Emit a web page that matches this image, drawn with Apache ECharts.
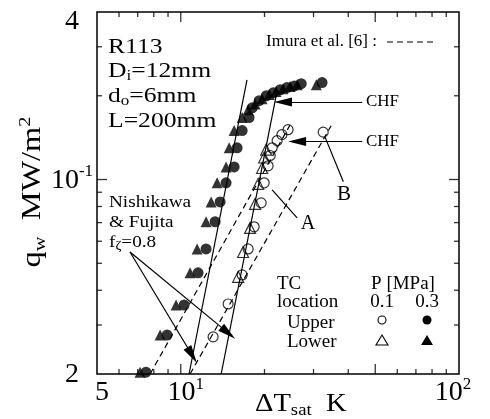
<!DOCTYPE html>
<html>
<head>
<meta charset="utf-8">
<script src="https://cdn.jsdelivr.net/npm/echarts@6/dist/echarts.min.js"></script>
<style>
html,body{margin:0;padding:0;background:#fff;}
#chart{width:490px;height:419px;}
</style>
</head>
<body>
<div id="chart"></div>
<script>
var F = "'Liberation Serif','Times New Roman',serif";

var xMin = 5, xMax = 100, yMin = 0.02, yMax = 0.4;

// P = 0.3 MPa (filled)
var upper03 = [[7.50,0.0203],[8.93,0.0276],[10.28,0.0354],[11.54,0.0462],[12.33,0.0563],[13.29,0.0705],[13.85,0.0831],[14.55,0.0973],[15.55,0.111],[15.94,0.130],[16.62,0.150],[17.6,0.167],[18.06,0.181],[19.13,0.192],[20.3,0.200],[21.5,0.205],[22.76,0.210],[24.1,0.214],[25.6,0.217],[27.1,0.221],[32.2,0.223]];
var lower03 = [[7.14,0.0203],[8.43,0.0276],[9.62,0.0354],[10.8,0.0462],[11.45,0.0563],[12.33,0.0705],[12.86,0.0831],[13.51,0.0973],[14.55,0.111],[14.93,0.130],[15.55,0.150],[16.62,0.167],[17.46,0.178],[18.5,0.187],[19.6,0.195],[20.8,0.202],[22.0,0.207],[23.3,0.212],[24.7,0.216],[26.2,0.219],[30.7,0.219]];
// P = 0.1 MPa (open)
var upper01 = [[13.07,0.0272],[14.8,0.0357],[16.62,0.0454],[17.46,0.0563],[18.35,0.0676],[19.45,0.0824],[19.94,0.0973],[20.6,0.112],[20.96,0.122],[21.3,0.130],[22.2,0.138],[23.1,0.145],[24.3,0.151],[32.5,0.148]];
var lower01 = [[16.08,0.0447],[16.75,0.0549],[17.75,0.0670],[18.5,0.0818],[18.98,0.0965],[19.6,0.110],[19.94,0.120],[20.27,0.128]];

// correlations
var nf03 = [[10.71,0.02],[17.3,0.228]];
var nf01 = [[13.97,0.02],[22.0,0.199]];
var imura03 = [[7.76,0.02],[24.7,0.157]];
var imura01 = [[10.8,0.02],[34.7,0.156]];

// annotation arrows / pointers
var chfArrows = [[[44.9,0.190],[23.3,0.190]], [[44.9,0.137],[26.2,0.137]]];
var nfArrows = [[[6.57,0.0549],[10.98,0.0234]], [[6.57,0.0549],[14.8,0.0281]]];
var pointers = [[[21.3,0.0918],[26.2,0.0728]], [[33.0,0.142],[38.4,0.0981]]];

// ticks and labels
var xTicks = [6,7,8,9,10,20,30,40,50,60,70,80,90];
var xMajor = [10,50];
var yTicks = [0.03,0.04,0.05,0.06,0.07,0.08,0.09,0.1,0.2,0.3];
var yMajor = [0.1];
var xLabels = [[5,'5',''],[10,'10','1'],[100,'10','2']];
var yLabels = [[0.02,'2',''],[0.1,'10','-1'],[0.4,'4','']];

var chart = echarts.init(document.getElementById('chart'));

function lineS(data, dashed) {
	return {
		type: 'line', data: data, symbol: 'none', silent: true, z: 3,
		lineStyle: {color: '#000', width: 1.2, type: dashed ? [6, 4] : 'solid'}
	};
}

function pts(data, sym, filled, size) {
	return {
		type: 'scatter', data: data, symbol: sym, symbolSize: size, silent: true, z: 4,
		itemStyle: filled ? {color: '#000'} : {color: 'rgba(255,255,255,0)', borderColor: '#000', borderWidth: 1.2}
	};
}

function arrowLines(list, withHead) {
	return list.map(function (a) {
		return [{coord: a[0], symbol: 'none'}, {coord: a[1], symbol: withHead ? 'triangle' : 'none'}];
	});
}

function tickText(lab) {
	return '{b|' + lab[1] + '}' + (lab[2] ? '{s|' + lab[2] + '}' : '');
}

// tick marks as thin rect symbols sitting on the frame, shifted inward by half their length
var tickItems = [];
xTicks.forEach(function (v) {
	var len = xMajor.indexOf(v) >= 0 ? 10 : 5;
	tickItems.push({value: [v, yMin], symbolSize: [1.3, len], symbolOffset: [0, '-50%']});
	tickItems.push({value: [v, yMax], symbolSize: [1.3, len], symbolOffset: [0, '50%']});
});
yTicks.forEach(function (v) {
	var len = yMajor.indexOf(v) >= 0 ? 10 : 5;
	tickItems.push({value: [xMin, v], symbolSize: [len, 1.3], symbolOffset: ['50%', 0]});
	tickItems.push({value: [xMax, v], symbolSize: [len, 1.3], symbolOffset: ['-50%', 0]});
});

var labRich = {
	b: {fontFamily: F, fontSize: 28, lineHeight: 34, color: '#000'},
	s: {fontFamily: F, fontSize: 17, lineHeight: 20, verticalAlign: 'top', color: '#000'}
};

var sub = function (size, lh) { return {fontFamily: F, fontSize: size, lineHeight: lh, verticalAlign: 'bottom', color: '#000'}; };
var main = function (size, lh) { return {fontFamily: F, fontSize: size, lineHeight: lh, color: '#000'}; };

var texts = [
	{type: 'text', x: 108, y: 47, scaleX: 1.22, style: {text: 'R113', font: '21px ' + F, fill: '#000', verticalAlign: 'middle'}},
	{type: 'text', x: 108, y: 71, scaleX: 1.22, style: {text: '{m|D}{u|i}{m|=12mm}', verticalAlign: 'middle', rich: {m: main(21, 24), u: sub(14, 12)}}},
	{type: 'text', x: 108, y: 96, scaleX: 1.22, style: {text: '{m|d}{u|o}{m|=6mm}', verticalAlign: 'middle', rich: {m: main(21, 24), u: sub(14, 12)}}},
	{type: 'text', x: 108, y: 121, scaleX: 1.22, style: {text: 'L=200mm', font: '21px ' + F, fill: '#000', verticalAlign: 'middle'}},

	{type: 'text', x: 266, y: 42, style: {text: 'Imura et al. [6] :', font: '17px ' + F, fill: '#000', verticalAlign: 'middle'}},
	{type: 'line', shape: {x1: 387, y1: 42, x2: 434, y2: 42}, style: {stroke: '#000', lineWidth: 1.2, lineDash: [6, 4]}},

	{type: 'text', x: 109, y: 203, scaleX: 1.2, style: {text: 'Nishikawa', font: '16px ' + F, fill: '#000', verticalAlign: 'middle'}},
	{type: 'text', x: 109, y: 223, scaleX: 1.2, style: {text: '& Fujita', font: '16px ' + F, fill: '#000', verticalAlign: 'middle'}},
	{type: 'text', x: 109, y: 243, scaleX: 1.2, style: {text: '{m|f}{u|ζ}{m|=0.8}', verticalAlign: 'middle', rich: {m: main(16, 18), u: sub(12, 10)}}},

	{type: 'text', x: 366, y: 102, style: {text: 'CHF', font: '17px ' + F, fill: '#000', verticalAlign: 'middle'}},
	{type: 'text', x: 366, y: 142, style: {text: 'CHF', font: '17px ' + F, fill: '#000', verticalAlign: 'middle'}},
	{type: 'text', x: 344, y: 194, style: {text: 'B', font: '21px ' + F, fill: '#000', align: 'center', verticalAlign: 'middle'}},
	{type: 'text', x: 308, y: 224, style: {text: 'A', font: '20px ' + F, fill: '#000', align: 'center', verticalAlign: 'middle'}},

	{type: 'text', x: 277, y: 284, style: {text: 'TC', font: '19px ' + F, fill: '#000', verticalAlign: 'middle'}},
	{type: 'text', x: 277, y: 302, style: {text: 'location', font: '19px ' + F, fill: '#000', verticalAlign: 'middle'}},
	{type: 'text', x: 287, y: 323, style: {text: 'Upper', font: '19px ' + F, fill: '#000', verticalAlign: 'middle'}},
	{type: 'text', x: 287, y: 342, style: {text: 'Lower', font: '19px ' + F, fill: '#000', verticalAlign: 'middle'}},
	{type: 'text', x: 403, y: 284, style: {text: 'P [MPa]', font: '19px ' + F, fill: '#000', align: 'center', verticalAlign: 'middle'}},
	{type: 'text', x: 382, y: 302, style: {text: '0.1', font: '19px ' + F, fill: '#000', align: 'center', verticalAlign: 'middle'}},
	{type: 'text', x: 427, y: 302, style: {text: '0.3', font: '19px ' + F, fill: '#000', align: 'center', verticalAlign: 'middle'}},
	{type: 'circle', shape: {cx: 382, cy: 320, r: 4}, style: {fill: 'none', stroke: '#000', lineWidth: 1.1}},
	{type: 'circle', shape: {cx: 427, cy: 320, r: 4.5}, style: {fill: '#000'}},
	{type: 'polygon', shape: {points: [[382, 335], [388, 345], [376, 345]]}, style: {fill: 'none', stroke: '#000', lineWidth: 1.1}},
	{type: 'polygon', shape: {points: [[427, 335], [433, 345], [421, 345]]}, style: {fill: '#000'}},

	// axis titles
	{type: 'text', x: 255, y: 404, scaleX: 1.1, style: {text: '{m|ΔT}{u|sat}{m|  K}', verticalAlign: 'middle', rich: {m: main(26, 30), u: sub(17, 16)}}},
	{type: 'text', x: 33, y: 192, rotation: Math.PI / 2, scaleX: 1.2, style: {text: '{m|q}{u|w}{m|  MW/m}{p|2}', align: 'center', verticalAlign: 'middle',
		rich: {m: main(27, 32), u: sub(17, 16), p: {fontFamily: F, fontSize: 17, lineHeight: 18, verticalAlign: 'top', color: '#000'}}}}
];

var option = {
	animation: false,
	grid: {left: 97, top: 12, width: 362, height: 362, show: true, borderColor: '#000', borderWidth: 1.5, backgroundColor: 'transparent'},
	xAxis: {type: 'log', logBase: 10, min: xMin, max: xMax, axisLine: {show: false}, axisTick: {show: false}, axisLabel: {show: false}, splitLine: {show: false}},
	yAxis: {type: 'log', logBase: 10, min: yMin, max: yMax, axisLine: {show: false}, axisTick: {show: false}, axisLabel: {show: false}, splitLine: {show: false}},
	graphic: texts,
	series: [
		lineS(nf03, false),
		lineS(nf01, false),
		lineS(imura01, true),
		(function () {
			var s = lineS(imura03, true);
			s.markLine = {
				silent: true, animation: false, symbolSize: [9, 18], label: {show: false},
				lineStyle: {color: '#000', width: 1.2, type: 'solid'},
				data: arrowLines(chfArrows, true).concat(arrowLines(nfArrows, true)).concat(arrowLines(pointers, false))
			};
			return s;
		})(),
		pts(upper01, 'circle', false, 10),
		pts(lower01, 'triangle', false, 11),
		pts(upper03, 'circle', true, 11),
		pts(lower03, 'triangle', true, 11),
		{
			type: 'scatter', data: tickItems, symbol: 'rect', silent: true, clip: false, z: 6,
			itemStyle: {color: '#000'}
		},
		{
			type: 'custom', silent: true, z: 5, clip: false,
			encode: {x: 0, y: 1},
			data: xLabels.map(function (d) { return [d[0], yMin]; }),
			renderItem: function (params, api) {
				var lab = xLabels[params.dataIndex];
				var p = api.coord([lab[0], yMin]);
				return {type: 'text', x: Math.min(p[0] + 5, 453), y: p[1] + 19,
					style: {text: tickText(lab), rich: labRich, align: 'center', verticalAlign: 'middle'}};
			}
		},
		{
			type: 'custom', silent: true, z: 5, clip: false,
			encode: {x: 0, y: 1},
			data: yLabels.map(function (d) { return [xMin, d[0]]; }),
			renderItem: function (params, api) {
				var lab = yLabels[params.dataIndex];
				var p = api.coord([xMin, lab[0]]);
				return {type: 'text', x: p[0] - 25, y: Math.max(p[1] + 1, 22),
					style: {text: tickText(lab), rich: labRich, align: 'center', verticalAlign: 'middle'}};
			}
		}
	]
};

chart.setOption(option);
</script>
</body>
</html>
